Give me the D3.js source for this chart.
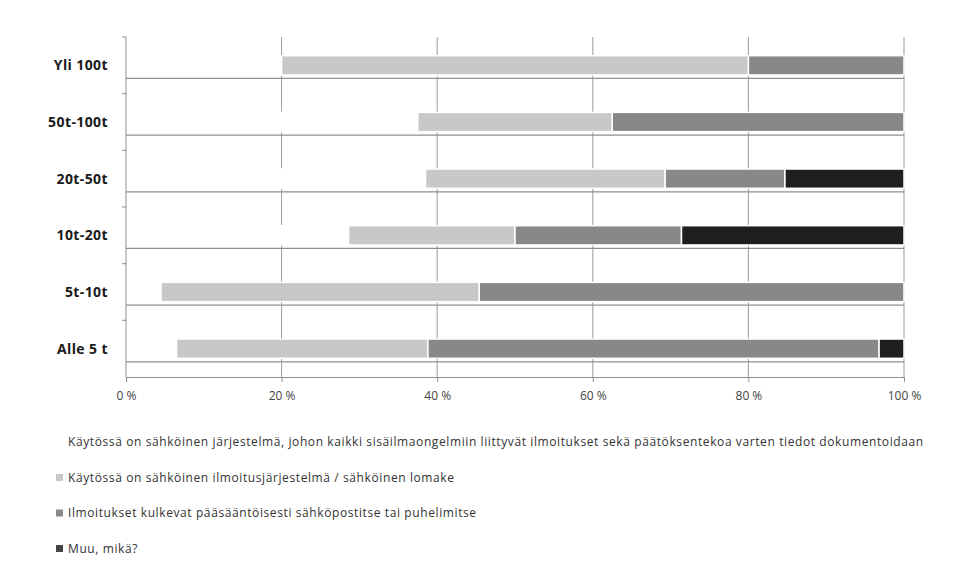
<!DOCTYPE html>
<html>
<head>
<meta charset="utf-8">
<script src="https://cdn.jsdelivr.net/npm/d3@7"></script>
<style>
  body { margin: 0; background: #fff; }
  text { font-family: "Open Sans", "DejaVu Sans", sans-serif; }
</style>
</head>
<body>
<div id="chart"></div>
<script>
// Categories, top to bottom
const categories = ["Yli 100t", "50t-100t", "20t-50t", "10t-20t", "5t-10t", "Alle 5 t"];

// Shares in percent, one array per series (same order as categories)
const sahkJarjestelma = [20.0, 37.5, 38.5, 28.6, 4.5, 6.5];
const sahkLomake      = [60.0, 25.0, 30.8, 21.4, 40.9, 32.3];
const sahkoposti      = [20.0, 37.5, 15.4, 21.4, 54.6, 58.0];
const muu             = [0.0, 0.0, 15.3, 28.6, 0.0, 3.2];

const seriesNames = [
  "Käytössä on sähköinen järjestelmä, johon kaikki sisäilmaongelmiin liittyvät ilmoitukset sekä päätöksentekoa varten tiedot dokumentoidaan",
  "Käytössä on sähköinen ilmoitusjärjestelmä / sähköinen lomake",
  "Ilmoitukset kulkevat pääsääntöisesti sähköpostitse tai puhelimitse",
  "Muu, mikä?"
];
const seriesColors = ["#ffffff", "#c8c8c8", "#888888", "#1e1e1e"];
const legendMarkers = ["#ffffff", "#c8c8c8", "#8a8a8a", "#444444"];

const xTicks = [0, 20, 40, 60, 80, 100];

const width = 960, height = 577;
const margin = { left: 126, right: 56, top: 37, bottom: 200 };

const svg = d3.select("#chart")
  .append("svg")
  .attr("width", width)
  .attr("height", height);

const x = d3.scaleLinear()
  .domain([0, 100])
  .range([margin.left, width - margin.right]);

const y = d3.scaleBand()
  .domain(categories)
  .range([margin.top, height - margin.bottom])
  .paddingInner(0.66)
  .paddingOuter(0.33);

// build rows for stacking
const rows = categories.map((c, i) => ({
  cat: c, s0: sahkJarjestelma[i], s1: sahkLomake[i], s2: sahkoposti[i], s3: muu[i]
}));
const stacked = d3.stack().keys(["s0", "s1", "s2", "s3"])(rows);

// vertical gridlines
svg.append("g")
  .selectAll("line")
  .data(xTicks.slice(1))
  .enter()
  .append("line")
  .attr("x1", d => x(d))
  .attr("x2", d => x(d))
  .attr("y1", margin.top)
  .attr("y2", height - margin.bottom)
  .attr("stroke", "#9a9a9a")
  .attr("stroke-width", 1);

// horizontal rule under each bar
svg.append("g")
  .selectAll("line")
  .data(categories)
  .enter()
  .append("line")
  .attr("x1", x(0))
  .attr("x2", x(100))
  .attr("y1", d => y(d) + y.bandwidth() + 3.5)
  .attr("y2", d => y(d) + y.bandwidth() + 3.5)
  .attr("stroke", "#8f8f8f")
  .attr("stroke-width", 1.2);

// bars
svg.append("g")
  .selectAll("g")
  .data(stacked)
  .enter()
  .append("g")
  .attr("fill", (d, i) => seriesColors[i])
  .selectAll("rect")
  .data(d => d)
  .enter()
  .append("rect")
  .attr("x", d => x(d[0]))
  .attr("y", d => y(d.data.cat))
  .attr("width", d => Math.max(0, x(d[1]) - x(d[0])))
  .attr("height", y.bandwidth())
  .attr("stroke", "#ffffff")
  .attr("stroke-width", 1.5);

// y axis
const yAxis = svg.append("g")
  .attr("transform", `translate(${margin.left},0)`);
yAxis.append("line")
  .attr("x1", 0).attr("x2", 0)
  .attr("y1", margin.top).attr("y2", height - margin.bottom)
  .attr("stroke", "#8f8f8f");
const bandEdges = categories.map(c => y(c) - y.step() * y.paddingInner() / 2);
yAxis.selectAll("line.tick")
  .data(bandEdges)
  .enter()
  .append("line")
  .attr("class", "tick")
  .attr("x1", -4).attr("x2", 0)
  .attr("y1", d => d).attr("y2", d => d)
  .attr("stroke", "#8f8f8f");
yAxis.selectAll("text")
  .data(categories)
  .enter()
  .append("text")
  .attr("x", -18)
  .attr("y", d => y(d) + y.bandwidth() / 2)
  .attr("dy", "0.35em")
  .attr("text-anchor", "end")
  .attr("font-size", "14px")
  .attr("font-weight", "bold")
  .attr("letter-spacing", "0.4px")
  .attr("fill", "#1a1a1a")
  .text(d => d);

// x axis
const xAxis = svg.append("g")
  .attr("transform", `translate(0,${height - margin.bottom})`)
  .call(d3.axisBottom(x).tickValues(xTicks).tickFormat(d => d + " %").tickSize(5).tickPadding(9));
xAxis.select(".domain").attr("stroke", "#8f8f8f");
xAxis.selectAll(".tick line").attr("stroke", "#8f8f8f");
xAxis.selectAll(".tick text")
  .attr("font-size", "12px")
  .attr("fill", "#444")
  .attr("font-family", "'Open Sans', sans-serif");

// legend
const legend = svg.append("g")
  .selectAll("g")
  .data(seriesNames)
  .enter()
  .append("g")
  .attr("transform", (d, i) => `translate(56,${442 + i * 35.5})`);
legend.append("rect")
  .attr("x", 0).attr("y", -3.5)
  .attr("width", 7).attr("height", 7)
  .attr("fill", (d, i) => legendMarkers[i]);
legend.append("text")
  .attr("x", 12)
  .attr("y", 0)
  .attr("dy", "0.35em")
  .attr("font-size", "12px")
  .attr("letter-spacing", "0.6px")
  .attr("fill", "#333")
  .text(d => d);
</script>
</body>
</html>
